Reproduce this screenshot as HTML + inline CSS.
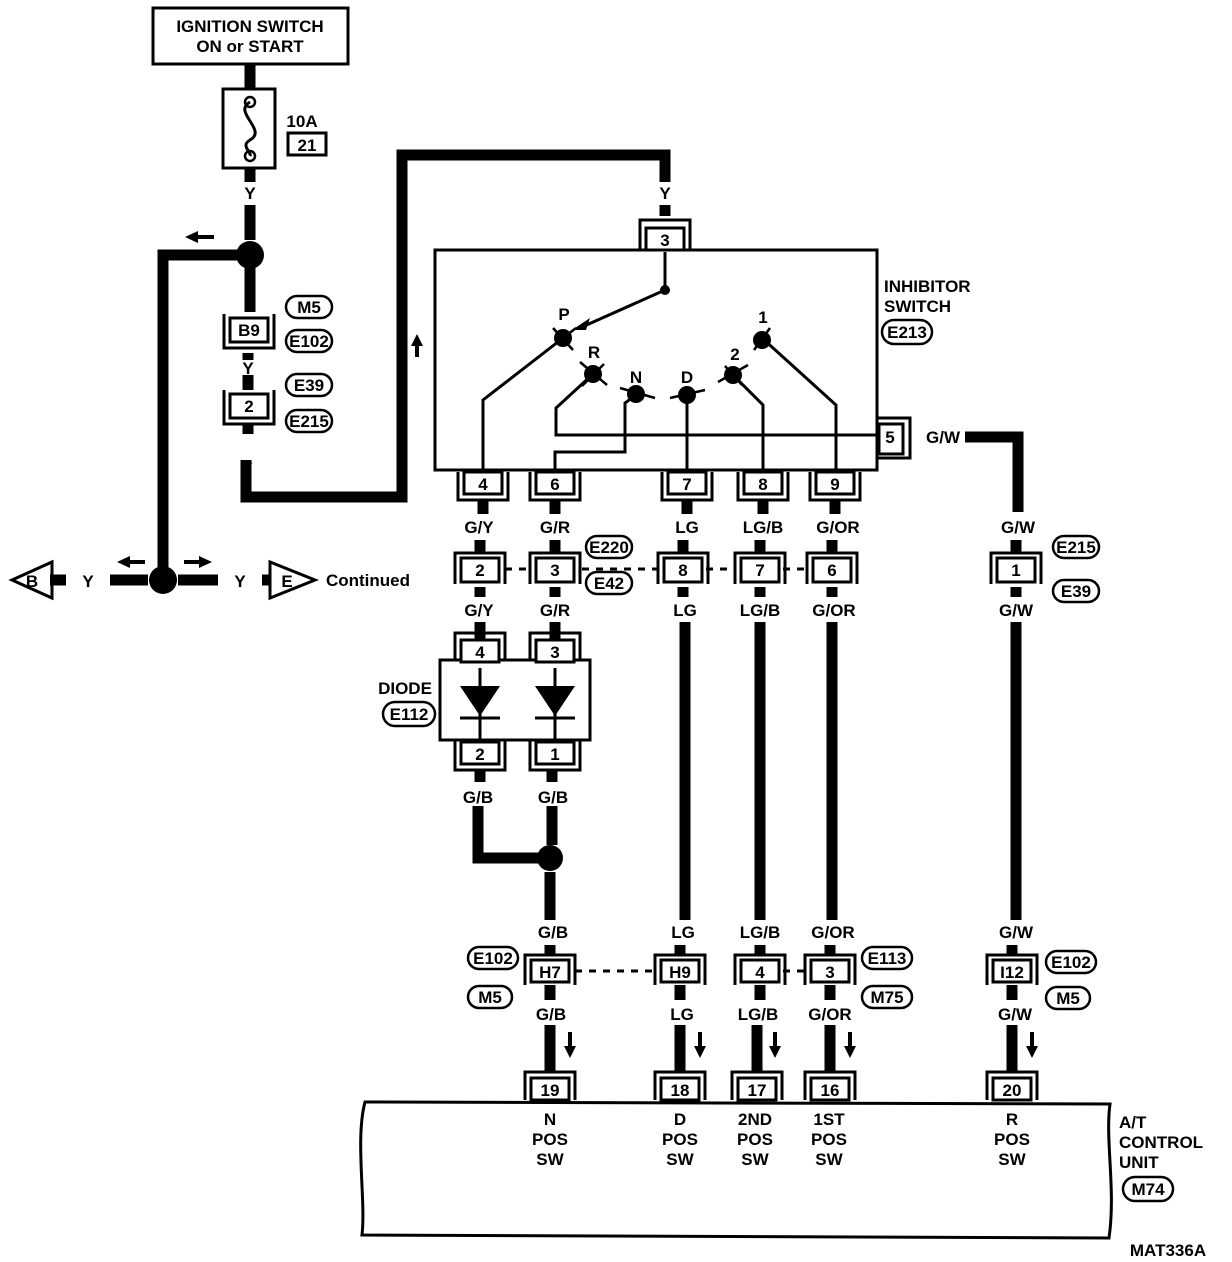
<!DOCTYPE html>
<html><head><meta charset="utf-8"><style>
html,body{margin:0;padding:0;background:#fff;}
svg{display:block}
text{font-family:"Liberation Sans",Arial,sans-serif;font-weight:bold;font-size:17px;fill:#000;text-anchor:middle}
</style></head><body>
<svg width="1232" height="1262" viewBox="0 0 1232 1262" xmlns="http://www.w3.org/2000/svg">
<g fill="none" stroke="#000">
<rect x="153" y="8" width="195" height="56" stroke-width="3"/>
<g stroke-width="11" stroke-linecap="butt">
<line x1="250" y1="64" x2="250" y2="90"/>
<line x1="250" y1="168" x2="250" y2="182"/>
<line x1="250" y1="205" x2="250" y2="240"/>
<polyline points="250,255 163,255 163,580"/>
<line x1="250" y1="265" x2="250" y2="312"/>
<line x1="248" y1="353" x2="248" y2="360"/>
<line x1="248" y1="375" x2="248" y2="390"/>
<line x1="248" y1="424" x2="248" y2="434"/>
<polyline points="246,460 246,497 402,497 402,155 665,155 665,182"/>
<line x1="665" y1="205" x2="665" y2="216"/>
<polyline points="965,437 1018,437 1018,512"/>
<line x1="110" y1="580" x2="148" y2="580"/>
<line x1="178" y1="580" x2="218" y2="580"/>
<line x1="262" y1="580" x2="270" y2="580"/>
<line x1="50" y1="580" x2="66" y2="580"/>
<line x1="483" y1="500" x2="483" y2="514"/><line x1="555" y1="500" x2="555" y2="514"/>
<line x1="687" y1="500" x2="687" y2="514"/><line x1="763" y1="500" x2="763" y2="514"/>
<line x1="835" y1="500" x2="835" y2="514"/>
<line x1="480" y1="540" x2="480" y2="553"/><line x1="555" y1="540" x2="555" y2="553"/>
<line x1="683" y1="540" x2="683" y2="553"/><line x1="760" y1="540" x2="760" y2="553"/>
<line x1="832" y1="540" x2="832" y2="553"/><line x1="1016" y1="540" x2="1016" y2="553"/>
<line x1="480" y1="587" x2="480" y2="597"/><line x1="555" y1="587" x2="555" y2="597"/>
<line x1="683" y1="587" x2="683" y2="597"/><line x1="760" y1="587" x2="760" y2="597"/>
<line x1="832" y1="587" x2="832" y2="597"/><line x1="1016" y1="587" x2="1016" y2="597"/>
<line x1="480" y1="622" x2="480" y2="640"/><line x1="555" y1="622" x2="555" y2="640"/>
<line x1="480" y1="770" x2="480" y2="782"/><line x1="552" y1="770" x2="552" y2="782"/>
<polyline points="478,806 478,858 550,858"/>
<line x1="552" y1="806" x2="552" y2="845"/>
<line x1="550" y1="872" x2="550" y2="920"/>
<line x1="685" y1="622" x2="685" y2="920"/>
<line x1="760" y1="622" x2="760" y2="920"/>
<line x1="832" y1="622" x2="832" y2="920"/>
<line x1="1016" y1="622" x2="1016" y2="920"/>
<line x1="550" y1="945" x2="550" y2="955"/><line x1="680" y1="945" x2="680" y2="955"/>
<line x1="760" y1="945" x2="760" y2="955"/><line x1="830" y1="945" x2="830" y2="955"/>
<line x1="1012" y1="945" x2="1012" y2="955"/>
<line x1="550" y1="985" x2="550" y2="1000"/><line x1="680" y1="985" x2="680" y2="1000"/>
<line x1="760" y1="985" x2="760" y2="1000"/><line x1="830" y1="985" x2="830" y2="1000"/>
<line x1="1012" y1="985" x2="1012" y2="1000"/>
<line x1="550" y1="1025" x2="550" y2="1072"/><line x1="680" y1="1025" x2="680" y2="1072"/>
<line x1="757" y1="1025" x2="757" y2="1072"/><line x1="830" y1="1025" x2="830" y2="1072"/>
<line x1="1012" y1="1025" x2="1012" y2="1072"/>
</g>
<rect x="223" y="89" width="52" height="79" stroke-width="3"/>
<path d="M250 102 C232 112,268 130,250 140 C240 146,252 152,250 156" stroke-width="3"/>
<circle cx="250" cy="102" r="5" stroke-width="2.5"/>
<circle cx="250" cy="156" r="5" stroke-width="2.5"/>
<rect x="435" y="250" width="442" height="220" stroke-width="3"/>
<g stroke-width="3">
<line x1="665" y1="252" x2="665" y2="290"/>
<line x1="665" y1="290" x2="582" y2="327"/>
<polyline points="563,338 483,400 483,472"/>
<polyline points="593,374 556,408 556,435 877,435"/>
<polyline points="636,395 625,403 625,452 555,452 555,472"/>
<line x1="687" y1="396" x2="687" y2="472"/>
<polyline points="733,375 763,405 763,472"/>
<polyline points="762,338 836,405 836,472"/>
</g>
<g stroke-width="2.5">
<line x1="550" y1="348" x2="576" y2="328"/><line x1="553" y1="328" x2="573" y2="350"/>
<line x1="580" y1="362" x2="607" y2="385"/><line x1="582" y1="386" x2="604" y2="364"/>
<line x1="620" y1="388" x2="655" y2="398"/>
<line x1="670" y1="398" x2="705" y2="390"/>
<line x1="718" y1="382" x2="748" y2="365"/><line x1="725" y1="366" x2="742" y2="385"/>
<line x1="754" y1="350" x2="770" y2="328"/>
</g>
<g stroke-width="3" stroke-dasharray="7,7">
<line x1="505" y1="569" x2="530" y2="569"/>
<line x1="582" y1="569" x2="660" y2="569"/>
<line x1="706" y1="569" x2="736" y2="569"/>
<line x1="783" y1="569" x2="808" y2="569"/>
<line x1="575" y1="971" x2="656" y2="971"/>
<line x1="783" y1="971" x2="806" y2="971"/>
</g>
<rect x="440" y="660" width="150" height="80" stroke-width="3"/>
<g stroke-width="3">
<line x1="480" y1="668" x2="480" y2="740"/><line x1="555" y1="668" x2="555" y2="740"/>
<line x1="460" y1="718" x2="500" y2="718"/><line x1="535" y1="718" x2="575" y2="718"/>
</g>
<path d="M365 1102 L1110 1104 C1105 1140,1116 1190,1109 1238 L362 1235 C366 1200,355 1140,365 1102 Z" stroke-width="3"/>
<path d="M52 562 L52 598 L12 580 Z" stroke-width="3"/>
<path d="M270 562 L270 598 L315 580 Z" stroke-width="3"/>
<g stroke-width="2.5">
<rect x="286" y="296" width="46" height="22" rx="11"/>
<rect x="286" y="330" width="46" height="22" rx="11"/>
<rect x="286" y="374" width="46" height="22" rx="11"/>
<rect x="286" y="410" width="46" height="22" rx="11"/>
<rect x="882" y="320" width="50" height="24" rx="12"/>
<rect x="586" y="536" width="46" height="22" rx="11"/>
<rect x="586" y="572" width="46" height="22" rx="11"/>
<rect x="1053" y="536" width="46" height="22" rx="11"/>
<rect x="1053" y="580" width="46" height="22" rx="11"/>
<rect x="383" y="702" width="52" height="24" rx="12"/>
<rect x="468" y="947" width="50" height="22" rx="11"/>
<rect x="468" y="986" width="44" height="22" rx="11"/>
<rect x="862" y="947" width="50" height="22" rx="11"/>
<rect x="862" y="986" width="50" height="22" rx="11"/>
<rect x="1046" y="951" width="50" height="22" rx="11"/>
<rect x="1046" y="987" width="44" height="22" rx="11"/>
<rect x="1123" y="1177" width="50" height="24" rx="12"/>
</g>
</g>
<g fill="#000">
<circle cx="250" cy="255" r="14"/>
<circle cx="163" cy="580" r="14"/>
<circle cx="550" cy="858" r="13"/>
<circle cx="665" cy="290" r="5"/>
<circle cx="563" cy="338" r="9"/><circle cx="593" cy="374" r="9"/>
<circle cx="636" cy="394" r="9"/><circle cx="687" cy="395" r="9"/>
<circle cx="733" cy="375" r="9"/><circle cx="762" cy="340" r="9"/>
<path d="M572 330 L590 318 L586 330 Z"/>
<path d="M460 686 L500 686 L480 716 Z"/><path d="M535 686 L575 686 L555 716 Z"/>
<path d="M185 237 L198 231 L198 235 L214 235 L214 239 L198 239 L198 243 Z"/>
<path d="M417 358 L411 346 L415 346 L415 335 L419 335 L419 346 L423 346 Z" transform="rotate(180 417 346)"/>
<path d="M117 562 L130 556 L130 560 L145 560 L145 564 L130 564 L130 568 Z"/>
<path d="M212 562 L199 556 L199 560 L184 560 L184 564 L199 564 L199 568 Z"/>
<path d="M570 1058 L564 1046 L568 1046 L568 1032 L572 1032 L572 1046 L576 1046 Z"/>
<path d="M700 1058 L694 1046 L698 1046 L698 1032 L702 1032 L702 1046 L706 1046 Z"/>
<path d="M775 1058 L769 1046 L773 1046 L773 1032 L777 1032 L777 1046 L781 1046 Z"/>
<path d="M850 1058 L844 1046 L848 1046 L848 1032 L852 1032 L852 1046 L856 1046 Z"/>
<path d="M1032 1058 L1026 1046 L1030 1046 L1030 1032 L1034 1032 L1034 1046 L1038 1046 Z"/>
</g>
<g fill="#fff" stroke="#000" stroke-width="3">
<rect x="230" y="318" width="38" height="24"/><path d="M224 314 V348 H274 V314" fill="none"/>
<rect x="230" y="394" width="38" height="24"/><path d="M224 390 V424 H274 V390" fill="none"/>
<rect x="646" y="228" width="38" height="22" /><path d="M640 250 V220 H690 V250" fill="none"/>
<rect x="879" y="424" width="24" height="30"/><path d="M877 418 H910 V458 H877" fill="none"/>
<rect x="464" y="472" width="38" height="22"/><path d="M458 472 V500 H508 V472" fill="none"/>
<rect x="536" y="472" width="38" height="22"/><path d="M530 472 V500 H580 V472" fill="none"/>
<rect x="668" y="472" width="38" height="22"/><path d="M662 472 V500 H712 V472" fill="none"/>
<rect x="744" y="472" width="38" height="22"/><path d="M738 472 V500 H788 V472" fill="none"/>
<rect x="816" y="472" width="38" height="22"/><path d="M810 472 V500 H860 V472" fill="none"/>
<rect x="461" y="558" width="38" height="24"/><path d="M455 584 V553 H505 V584" fill="none"/>
<rect x="536" y="558" width="38" height="24"/><path d="M530 584 V553 H580 V584" fill="none"/>
<rect x="664" y="558" width="38" height="24"/><path d="M658 584 V553 H708 V584" fill="none"/>
<rect x="741" y="558" width="38" height="24"/><path d="M735 584 V553 H785 V584" fill="none"/>
<rect x="813" y="558" width="38" height="24"/><path d="M807 584 V553 H857 V584" fill="none"/>
<rect x="997" y="558" width="38" height="24"/><path d="M991 584 V553 H1041 V584" fill="none"/>
<rect x="461" y="640" width="38" height="22"/><path d="M455 660 V633 H505 V660" fill="none"/>
<rect x="536" y="640" width="38" height="22"/><path d="M530 660 V633 H580 V660" fill="none"/>
<rect x="461" y="742" width="38" height="22"/><path d="M455 740 V770 H505 V740" fill="none"/>
<rect x="536" y="742" width="38" height="22"/><path d="M530 740 V770 H580 V740" fill="none"/>
<rect x="531" y="960" width="38" height="22"/><path d="M525 985 V955 H575 V985" fill="none"/>
<rect x="661" y="960" width="38" height="22"/><path d="M655 985 V955 H705 V985" fill="none"/>
<rect x="741" y="960" width="38" height="22"/><path d="M735 985 V955 H785 V985" fill="none"/>
<rect x="811" y="960" width="38" height="22"/><path d="M805 985 V955 H855 V985" fill="none"/>
<rect x="993" y="960" width="38" height="22"/><path d="M987 985 V955 H1037 V985" fill="none"/>
<rect x="531" y="1078" width="38" height="22"/><path d="M525 1100 V1072 H575 V1100" fill="none"/>
<rect x="661" y="1078" width="38" height="22"/><path d="M655 1100 V1072 H705 V1100" fill="none"/>
<rect x="738" y="1078" width="38" height="22"/><path d="M732 1100 V1072 H782 V1100" fill="none"/>
<rect x="811" y="1078" width="38" height="22"/><path d="M805 1100 V1072 H855 V1100" fill="none"/>
<rect x="993" y="1078" width="38" height="22"/><path d="M987 1100 V1072 H1037 V1100" fill="none"/>
<rect x="288" y="133" width="38" height="22"/>
</g>
<text x="250" y="32">IGNITION SWITCH</text>
<text x="250" y="52">ON or START</text>
<text x="302" y="127">10A</text>
<text x="307" y="151">21</text>
<text x="250" y="199">Y</text>
<text x="249" y="336">B9</text>
<text x="309" y="313" font-size="15">M5</text>
<text x="309" y="347" font-size="15">E102</text>
<text x="248" y="374">Y</text>
<text x="249" y="412">2</text>
<text x="309" y="391" font-size="15">E39</text>
<text x="309" y="427" font-size="15">E215</text>
<text x="247" y="474">Y</text>
<text x="665" y="199">Y</text>
<text x="665" y="246">3</text>
<text x="884" y="292" style="text-anchor:start">INHIBITOR</text>
<text x="884" y="312" style="text-anchor:start">SWITCH</text>
<text x="907" y="338" font-size="15">E213</text>
<text x="564" y="320">P</text>
<text x="594" y="358">R</text>
<text x="636" y="383">N</text>
<text x="687" y="383">D</text>
<text x="735" y="360">2</text>
<text x="763" y="323">1</text>
<text x="890" y="443">5</text>
<text x="943" y="443">G/W</text>
<text x="483" y="490">4</text><text x="555" y="490">6</text><text x="687" y="490">7</text>
<text x="763" y="490">8</text><text x="835" y="490">9</text>
<text x="479" y="533">G/Y</text><text x="555" y="533">G/R</text><text x="687" y="533">LG</text>
<text x="763" y="533">LG/B</text><text x="838" y="533">G/OR</text><text x="1018" y="533">G/W</text>
<text x="480" y="576">2</text><text x="555" y="576">3</text><text x="683" y="576">8</text>
<text x="760" y="576">7</text><text x="832" y="576">6</text><text x="1016" y="576">1</text>
<text x="609" y="553" font-size="15">E220</text>
<text x="609" y="589" font-size="15">E42</text>
<text x="1076" y="553" font-size="15">E215</text>
<text x="1076" y="597" font-size="15">E39</text>
<text x="32" y="587">B</text><text x="88" y="587">Y</text>
<text x="240" y="587">Y</text><text x="287" y="587">E</text>
<text x="368" y="586" font-size="16">Continued</text>
<text x="479" y="616">G/Y</text><text x="555" y="616">G/R</text><text x="685" y="616">LG</text>
<text x="760" y="616">LG/B</text><text x="834" y="616">G/OR</text><text x="1016" y="616">G/W</text>
<text x="480" y="658">4</text><text x="555" y="658">3</text>
<text x="480" y="760">2</text><text x="555" y="760">1</text>
<text x="405" y="694">DIODE</text>
<text x="409" y="720" font-size="15">E112</text>
<text x="478" y="803">G/B</text><text x="553" y="803">G/B</text>
<text x="553" y="938">G/B</text><text x="683" y="938">LG</text><text x="760" y="938">LG/B</text>
<text x="833" y="938">G/OR</text><text x="1016" y="938">G/W</text>
<text x="550" y="978">H7</text><text x="680" y="978">H9</text><text x="760" y="978">4</text>
<text x="830" y="978">3</text><text x="1012" y="978">I12</text>
<text x="493" y="964" font-size="15">E102</text><text x="490" y="1003" font-size="15">M5</text>
<text x="887" y="964" font-size="15">E113</text><text x="887" y="1003" font-size="15">M75</text>
<text x="1071" y="968" font-size="15">E102</text><text x="1068" y="1004" font-size="15">M5</text>
<text x="551" y="1020">G/B</text><text x="682" y="1020">LG</text><text x="758" y="1020">LG/B</text>
<text x="830" y="1020">G/OR</text><text x="1015" y="1020">G/W</text>
<text x="550" y="1096">19</text><text x="680" y="1096">18</text><text x="757" y="1096">17</text>
<text x="830" y="1096">16</text><text x="1012" y="1096">20</text>
<text x="550" y="1125">N</text><text x="550" y="1145">POS</text><text x="550" y="1165">SW</text>
<text x="680" y="1125">D</text><text x="680" y="1145">POS</text><text x="680" y="1165">SW</text>
<text x="755" y="1125">2ND</text><text x="755" y="1145">POS</text><text x="755" y="1165">SW</text>
<text x="829" y="1125">1ST</text><text x="829" y="1145">POS</text><text x="829" y="1165">SW</text>
<text x="1012" y="1125">R</text><text x="1012" y="1145">POS</text><text x="1012" y="1165">SW</text>
<text x="1119" y="1128" style="text-anchor:start">A/T</text>
<text x="1119" y="1148" style="text-anchor:start">CONTROL</text>
<text x="1119" y="1168" style="text-anchor:start">UNIT</text>
<text x="1148" y="1195" font-size="15">M74</text>
<text x="1168" y="1256" font-size="16">MAT336A</text>
</svg>
</body></html>
